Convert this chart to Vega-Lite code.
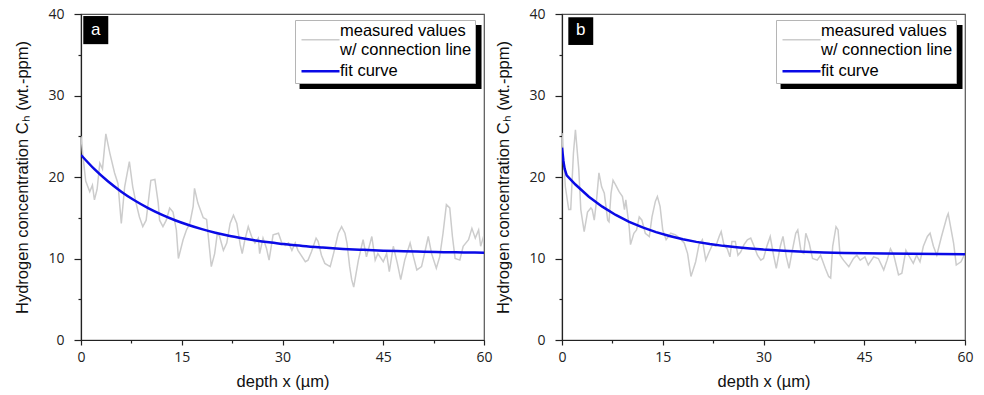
{
  "$schema": "https://vega.github.io/schema/vega-lite/v6.json",
  "padding": {"left": 14, "top": 6, "right": 5, "bottom": 2},
  "bounds": "flush",
  "spacing": 78,
  "config": {
    "view": {"stroke": "#555555", "strokeWidth": 1.2},
    "axis": {
      "grid": false,
      "domainColor": "#222222",
      "domainWidth": 1.2,
      "tickColor": "#222222",
      "tickWidth": 1.2,
      "labelFont": "Open Sans",
      "labelFontSize": 14,
      "labelColor": "#222222",
      "titleFont": "Liberation Sans",
      "titleFontSize": 16.5,
      "titleFontWeight": "normal",
      "titleColor": "#111111"
    }
  },
  "datasets": {
    "a_meas": [
      {"x":0,"y":25.0},{"x":0.3,"y":22.5},{"x":0.7,"y":19.5},{"x":1.3,"y":18.2},{"x":1.7,"y":19.0},{"x":2.0,"y":17.2},{"x":2.4,"y":18.5},{"x":2.8,"y":21.7},{"x":3.2,"y":21.0},{"x":3.7,"y":25.3},{"x":4.3,"y":22.9},{"x":5.0,"y":20.5},{"x":5.5,"y":19.2},{"x":6.0,"y":14.3},{"x":6.5,"y":18.8},{"x":7.2,"y":21.9},{"x":7.7,"y":18.8},{"x":8.2,"y":16.8},{"x":8.7,"y":15.1},{"x":9.2,"y":13.9},{"x":9.7,"y":14.7},{"x":10.4,"y":19.6},{"x":11.0,"y":19.7},{"x":11.5,"y":16.8},{"x":11.7,"y":14.7},{"x":12.2,"y":13.9},{"x":12.7,"y":14.7},{"x":13.2,"y":16.2},{"x":13.7,"y":15.7},{"x":14.2,"y":13.5},{"x":14.5,"y":10.0},{"x":15.2,"y":12.3},{"x":15.7,"y":13.5},{"x":16.2,"y":14.3},{"x":16.7,"y":16.4},{"x":16.9,"y":18.6},{"x":17.4,"y":16.8},{"x":18.2,"y":15.0},{"x":18.7,"y":14.8},{"x":19.4,"y":9.0},{"x":19.9,"y":10.6},{"x":20.3,"y":13.1},{"x":20.6,"y":12.8},{"x":21.2,"y":11.0},{"x":21.7,"y":11.9},{"x":22.2,"y":14.3},{"x":22.7,"y":15.3},{"x":23.2,"y":14.3},{"x":23.7,"y":11.7},{"x":24.0,"y":10.6},{"x":24.4,"y":12.3},{"x":24.9,"y":13.9},{"x":25.4,"y":12.7},{"x":25.9,"y":11.9},{"x":26.4,"y":12.5},{"x":26.6,"y":10.6},{"x":27.1,"y":12.5},{"x":27.6,"y":11.3},{"x":28.0,"y":9.8},{"x":28.6,"y":12.9},{"x":29.4,"y":13.1},{"x":29.9,"y":11.9},{"x":30.4,"y":11.6},{"x":30.9,"y":11.9},{"x":31.4,"y":11.0},{"x":31.9,"y":11.9},{"x":32.3,"y":11.0},{"x":33.4,"y":9.6},{"x":33.8,"y":9.8},{"x":34.3,"y":10.8},{"x":35.0,"y":12.5},{"x":35.3,"y":12.1},{"x":35.8,"y":10.4},{"x":36.3,"y":9.4},{"x":37.1,"y":9.0},{"x":37.6,"y":10.6},{"x":38.3,"y":13.1},{"x":38.8,"y":13.9},{"x":39.3,"y":13.1},{"x":39.6,"y":11.9},{"x":40.0,"y":9.0},{"x":40.3,"y":7.4},{"x":40.6,"y":6.5},{"x":41.3,"y":9.8},{"x":42.0,"y":12.3},{"x":42.5,"y":10.2},{"x":43.3,"y":12.7},{"x":43.8,"y":9.8},{"x":44.2,"y":10.6},{"x":45.0,"y":9.6},{"x":45.5,"y":10.6},{"x":45.9,"y":8.4},{"x":46.5,"y":11.5},{"x":47.1,"y":9.4},{"x":47.6,"y":7.4},{"x":48.2,"y":9.8},{"x":49.0,"y":11.9},{"x":49.5,"y":10.2},{"x":50.0,"y":8.6},{"x":50.7,"y":9.0},{"x":51.2,"y":10.8},{"x":51.7,"y":12.7},{"x":52.2,"y":10.6},{"x":52.9,"y":8.8},{"x":53.4,"y":10.2},{"x":53.9,"y":13.1},{"x":54.4,"y":16.6},{"x":54.9,"y":16.2},{"x":55.3,"y":12.7},{"x":55.7,"y":10.0},{"x":56.4,"y":9.8},{"x":56.9,"y":11.5},{"x":57.7,"y":12.3},{"x":58.2,"y":13.7},{"x":58.7,"y":12.5},{"x":59.2,"y":13.5},{"x":59.5,"y":11.5},{"x":60.0,"y":12.9}
    ],
    "a_fit": [
      {"x":0,"y":22.7},{"x":2,"y":20.96},{"x":4,"y":19.47},{"x":6,"y":18.2},{"x":8,"y":17.11},{"x":10,"y":16.18},{"x":12,"y":15.38},{"x":14,"y":14.69},{"x":16,"y":14.11},{"x":18,"y":13.6},{"x":20,"y":13.17},{"x":22,"y":12.8},{"x":24,"y":12.49},{"x":26,"y":12.21},{"x":28,"y":11.98},{"x":30,"y":11.79},{"x":33,"y":11.53},{"x":36,"y":11.34},{"x":39,"y":11.18},{"x":42,"y":11.06},{"x":45,"y":10.96},{"x":48,"y":10.89},{"x":51,"y":10.83},{"x":54,"y":10.78},{"x":57,"y":10.74},{"x":60,"y":10.71}
    ],
    "b_meas": [
      {"x":0,"y":25.4},{"x":0.5,"y":18.8},{"x":1.0,"y":16.0},{"x":1.3,"y":16.0},{"x":1.7,"y":22.9},{"x":2.0,"y":25.8},{"x":2.5,"y":20.9},{"x":2.8,"y":16.0},{"x":3.3,"y":13.3},{"x":3.8,"y":15.7},{"x":4.3,"y":16.2},{"x":4.5,"y":16.0},{"x":4.8,"y":14.7},{"x":5.1,"y":16.8},{"x":5.5,"y":20.5},{"x":5.9,"y":18.8},{"x":6.3,"y":18.0},{"x":6.8,"y":14.7},{"x":7.0,"y":14.5},{"x":7.3,"y":18.0},{"x":7.6,"y":19.6},{"x":8.0,"y":19.0},{"x":8.5,"y":18.2},{"x":9.0,"y":17.6},{"x":9.3,"y":16.0},{"x":9.5,"y":17.2},{"x":10.0,"y":13.9},{"x":10.2,"y":11.7},{"x":10.7,"y":13.1},{"x":11.1,"y":13.5},{"x":11.5,"y":15.1},{"x":11.9,"y":14.7},{"x":12.4,"y":13.1},{"x":13.0,"y":12.7},{"x":13.4,"y":15.1},{"x":13.9,"y":17.0},{"x":14.2,"y":17.6},{"x":14.6,"y":16.4},{"x":15.0,"y":13.5},{"x":15.5,"y":12.3},{"x":16.2,"y":13.1},{"x":16.9,"y":12.9},{"x":17.5,"y":12.5},{"x":18.2,"y":11.9},{"x":18.7,"y":10.6},{"x":19.2,"y":7.8},{"x":19.6,"y":8.8},{"x":19.9,"y":9.6},{"x":20.4,"y":11.7},{"x":20.9,"y":12.3},{"x":21.4,"y":9.8},{"x":21.9,"y":10.8},{"x":22.4,"y":11.7},{"x":22.9,"y":11.5},{"x":23.4,"y":12.7},{"x":23.7,"y":13.3},{"x":24.1,"y":11.7},{"x":24.6,"y":11.2},{"x":25.0,"y":10.2},{"x":25.3,"y":12.1},{"x":25.8,"y":12.1},{"x":26.2,"y":10.4},{"x":26.6,"y":10.8},{"x":27.1,"y":11.7},{"x":27.6,"y":12.3},{"x":28.1,"y":12.5},{"x":28.6,"y":11.5},{"x":29.1,"y":10.4},{"x":29.6,"y":9.8},{"x":30.0,"y":10.0},{"x":30.5,"y":11.5},{"x":31.0,"y":12.7},{"x":31.5,"y":10.4},{"x":31.9,"y":8.8},{"x":32.5,"y":11.5},{"x":32.9,"y":12.7},{"x":33.4,"y":10.2},{"x":33.8,"y":8.8},{"x":34.2,"y":10.6},{"x":34.8,"y":13.1},{"x":35.1,"y":13.5},{"x":35.6,"y":10.8},{"x":36.0,"y":10.6},{"x":36.3,"y":13.1},{"x":36.8,"y":11.9},{"x":37.3,"y":10.0},{"x":38.0,"y":9.8},{"x":38.5,"y":10.4},{"x":39.2,"y":8.8},{"x":39.7,"y":7.8},{"x":40.0,"y":7.6},{"x":40.3,"y":11.5},{"x":40.8,"y":13.9},{"x":41.1,"y":13.5},{"x":41.4,"y":10.4},{"x":41.9,"y":9.8},{"x":42.7,"y":9.0},{"x":43.4,"y":10.0},{"x":43.9,"y":10.4},{"x":44.4,"y":9.8},{"x":45.1,"y":10.2},{"x":45.6,"y":9.2},{"x":46.4,"y":10.2},{"x":47.1,"y":10.0},{"x":47.9,"y":8.6},{"x":48.4,"y":9.8},{"x":48.9,"y":11.2},{"x":49.4,"y":10.4},{"x":50.1,"y":8.0},{"x":50.6,"y":8.2},{"x":51.2,"y":11.0},{"x":51.6,"y":10.4},{"x":52.3,"y":9.4},{"x":52.8,"y":10.4},{"x":53.3,"y":9.6},{"x":53.8,"y":11.5},{"x":54.4,"y":12.7},{"x":54.8,"y":13.1},{"x":55.3,"y":11.5},{"x":55.8,"y":10.4},{"x":56.5,"y":12.7},{"x":57.3,"y":15.1},{"x":57.5,"y":15.5},{"x":57.9,"y":13.7},{"x":58.3,"y":11.9},{"x":58.7,"y":9.2},{"x":59.4,"y":9.6},{"x":60.0,"y":10.6}
    ],
    "b_fit": [
      {"x":0,"y":23.6},{"x":0.2,"y":22.0},{"x":0.4,"y":21.0},{"x":0.7,"y":20.2},{"x":2,"y":19.08},{"x":4,"y":17.58},{"x":6,"y":16.36},{"x":8,"y":15.34},{"x":10,"y":14.5},{"x":12,"y":13.81},{"x":14,"y":13.23},{"x":16,"y":12.76},{"x":18,"y":12.37},{"x":20,"y":12.04},{"x":22,"y":11.77},{"x":24,"y":11.55},{"x":26,"y":11.37},{"x":28,"y":11.22},{"x":30,"y":11.09},{"x":33,"y":10.95},{"x":36,"y":10.83},{"x":39,"y":10.75},{"x":42,"y":10.69},{"x":45,"y":10.64},{"x":48,"y":10.61},{"x":52,"y":10.57},{"x":56,"y":10.55},{"x":60,"y":10.53}
    ]
  },
  "resolve": {"scale": {"color": "independent"}},
  "hconcat": [
    {
      "width": 403,
      "height": 326,
      "encoding": {
        "x": {"type": "quantitative", "scale": {"domain": [0, 60], "nice": false},
          "axis": {"title": "depth x (µm)", "values": [0,7.5,15,22.5,30,37.5,45,52.5,60], "labelExpr": "datum.value % 15 === 0 ? datum.label : ''", "tickSize": {"condition": {"test": "datum.value % 15 === 0", "value": 5}, "value": 3}, "labelPadding": 5, "titlePadding": 9, "labelFlush": false}},
        "y": {"type": "quantitative", "scale": {"domain": [0, 40], "nice": false},
          "axis": {"title": "Hydrogen concentration Cₕ (wt.-ppm)", "values": [0,5,10,15,20,25,30,35,40], "labelExpr": "datum.value % 10 === 0 ? datum.label : ''", "tickSize": {"condition": {"test": "datum.value % 10 === 0", "value": 7}, "value": 3}, "labelPadding": 10, "titlePadding": 17}}
      },
      "layer": [
        {
          "data": {"values": [{"panel": "a"}]},
          "mark": {"type": "rect", "color": "black"},
          "encoding": {"x": {"datum": 32.54}, "x2": {"datum": 59.63}, "y": {"datum": 38.65}, "y2": {"datum": 30.8}}
        },
        {
          "data": {"name": "a_meas"},
          "mark": {"type": "line", "strokeWidth": 1.5, "clip": true},
          "encoding": {
            "x": {"field": "x", "type": "quantitative"},
            "y": {"field": "y", "type": "quantitative"},
            "color": {"datum": "measured", "type": "nominal", "scale": {"domain": ["measured", "fit"], "range": ["#cccccc", "#0a0ae6"]},
              "legend": {"orient": "none", "legendX": 214, "legendY": 6, "direction": "vertical", "title": null, "fillColor": "white", "strokeColor": "#b5b5b5", "padding": 3, "symbolType": "M-1,0H7", "symbolSize": 90.25, "symbolStrokeWidth": 2.5, "labelFont": "Liberation Sans", "labelFontSize": 16.5, "labelColor": "black", "labelOffset": 25.5, "rowPadding": 4, "labelLimit": 0, "labelExpr": "datum.value == 'measured' ? ['measured values', 'w/ connection line'] : 'fit curve'",
                "encode": {"symbols": {"update": {"shape": {"signal": "datum.value == 'measured' ? 'M-1,1.8H7' : 'M-1,0H7'"}, "strokeWidth": {"signal": "datum.value == 'measured' ? 1.6 : 2.5"}}}}}}
          }
        },
        {
          "data": {"name": "a_fit"},
          "mark": {"type": "line", "strokeWidth": 2.5, "interpolate": "monotone", "clip": true},
          "encoding": {
            "x": {"field": "x", "type": "quantitative"},
            "y": {"field": "y", "type": "quantitative"},
            "color": {"datum": "fit", "type": "nominal"}
          }
        },
        {
          "data": {"values": [{"panel": "a"}]},
          "mark": {"type": "rect", "color": "black"},
          "encoding": {"x": {"datum": 0.34}, "x2": {"datum": 4.06}, "y": {"datum": 39.75}, "y2": {"datum": 36.3}}
        },
        {
          "data": {"values": [{"panel": "a"}]},
          "mark": {"type": "text", "color": "white", "font": "Liberation Sans", "fontSize": 17, "align": "center", "baseline": "middle"},
          "encoding": {"text": {"field": "panel"}, "x": {"datum": 2.2}, "y": {"datum": 38.0}}
        }
      ]
    },
    {
      "width": 403,
      "height": 326,
      "encoding": {
        "x": {"type": "quantitative", "scale": {"domain": [0, 60], "nice": false},
          "axis": {"title": "depth x (µm)", "values": [0,7.5,15,22.5,30,37.5,45,52.5,60], "labelExpr": "datum.value % 15 === 0 ? datum.label : ''", "tickSize": {"condition": {"test": "datum.value % 15 === 0", "value": 5}, "value": 3}, "labelPadding": 5, "titlePadding": 9, "labelFlush": false}},
        "y": {"type": "quantitative", "scale": {"domain": [0, 40], "nice": false},
          "axis": {"title": "Hydrogen concentration Cₕ (wt.-ppm)", "values": [0,5,10,15,20,25,30,35,40], "labelExpr": "datum.value % 10 === 0 ? datum.label : ''", "tickSize": {"condition": {"test": "datum.value % 10 === 0", "value": 7}, "value": 3}, "labelPadding": 10, "titlePadding": 17}}
      },
      "layer": [
        {
          "data": {"values": [{"panel": "b"}]},
          "mark": {"type": "rect", "color": "black"},
          "encoding": {"x": {"datum": 32.54}, "x2": {"datum": 59.63}, "y": {"datum": 38.65}, "y2": {"datum": 30.8}}
        },
        {
          "data": {"name": "b_meas"},
          "mark": {"type": "line", "strokeWidth": 1.5, "clip": true},
          "encoding": {
            "x": {"field": "x", "type": "quantitative"},
            "y": {"field": "y", "type": "quantitative"},
            "color": {"datum": "measured", "type": "nominal", "scale": {"domain": ["measured", "fit"], "range": ["#cccccc", "#0a0ae6"]},
              "legend": {"orient": "none", "legendX": 214, "legendY": 6, "direction": "vertical", "title": null, "fillColor": "white", "strokeColor": "#b5b5b5", "padding": 3, "symbolType": "M-1,0H7", "symbolSize": 90.25, "symbolStrokeWidth": 2.5, "labelFont": "Liberation Sans", "labelFontSize": 16.5, "labelColor": "black", "labelOffset": 25.5, "rowPadding": 4, "labelLimit": 0, "labelExpr": "datum.value == 'measured' ? ['measured values', 'w/ connection line'] : 'fit curve'",
                "encode": {"symbols": {"update": {"shape": {"signal": "datum.value == 'measured' ? 'M-1,1.8H7' : 'M-1,0H7'"}, "strokeWidth": {"signal": "datum.value == 'measured' ? 1.6 : 2.5"}}}}}}
          }
        },
        {
          "data": {"name": "b_fit"},
          "mark": {"type": "line", "strokeWidth": 2.5, "clip": true},
          "encoding": {
            "x": {"field": "x", "type": "quantitative"},
            "y": {"field": "y", "type": "quantitative"},
            "color": {"datum": "fit", "type": "nominal"}
          }
        },
        {
          "data": {"values": [{"panel": "b"}]},
          "mark": {"type": "rect", "color": "black"},
          "encoding": {"x": {"datum": 0.94}, "x2": {"datum": 4.65}, "y": {"datum": 39.6}, "y2": {"datum": 36.2}}
        },
        {
          "data": {"values": [{"panel": "b"}]},
          "mark": {"type": "text", "color": "white", "font": "Liberation Sans", "fontSize": 17, "align": "center", "baseline": "middle"},
          "encoding": {"text": {"field": "panel"}, "x": {"datum": 2.8}, "y": {"datum": 38.0}}
        }
      ]
    }
  ]
}
